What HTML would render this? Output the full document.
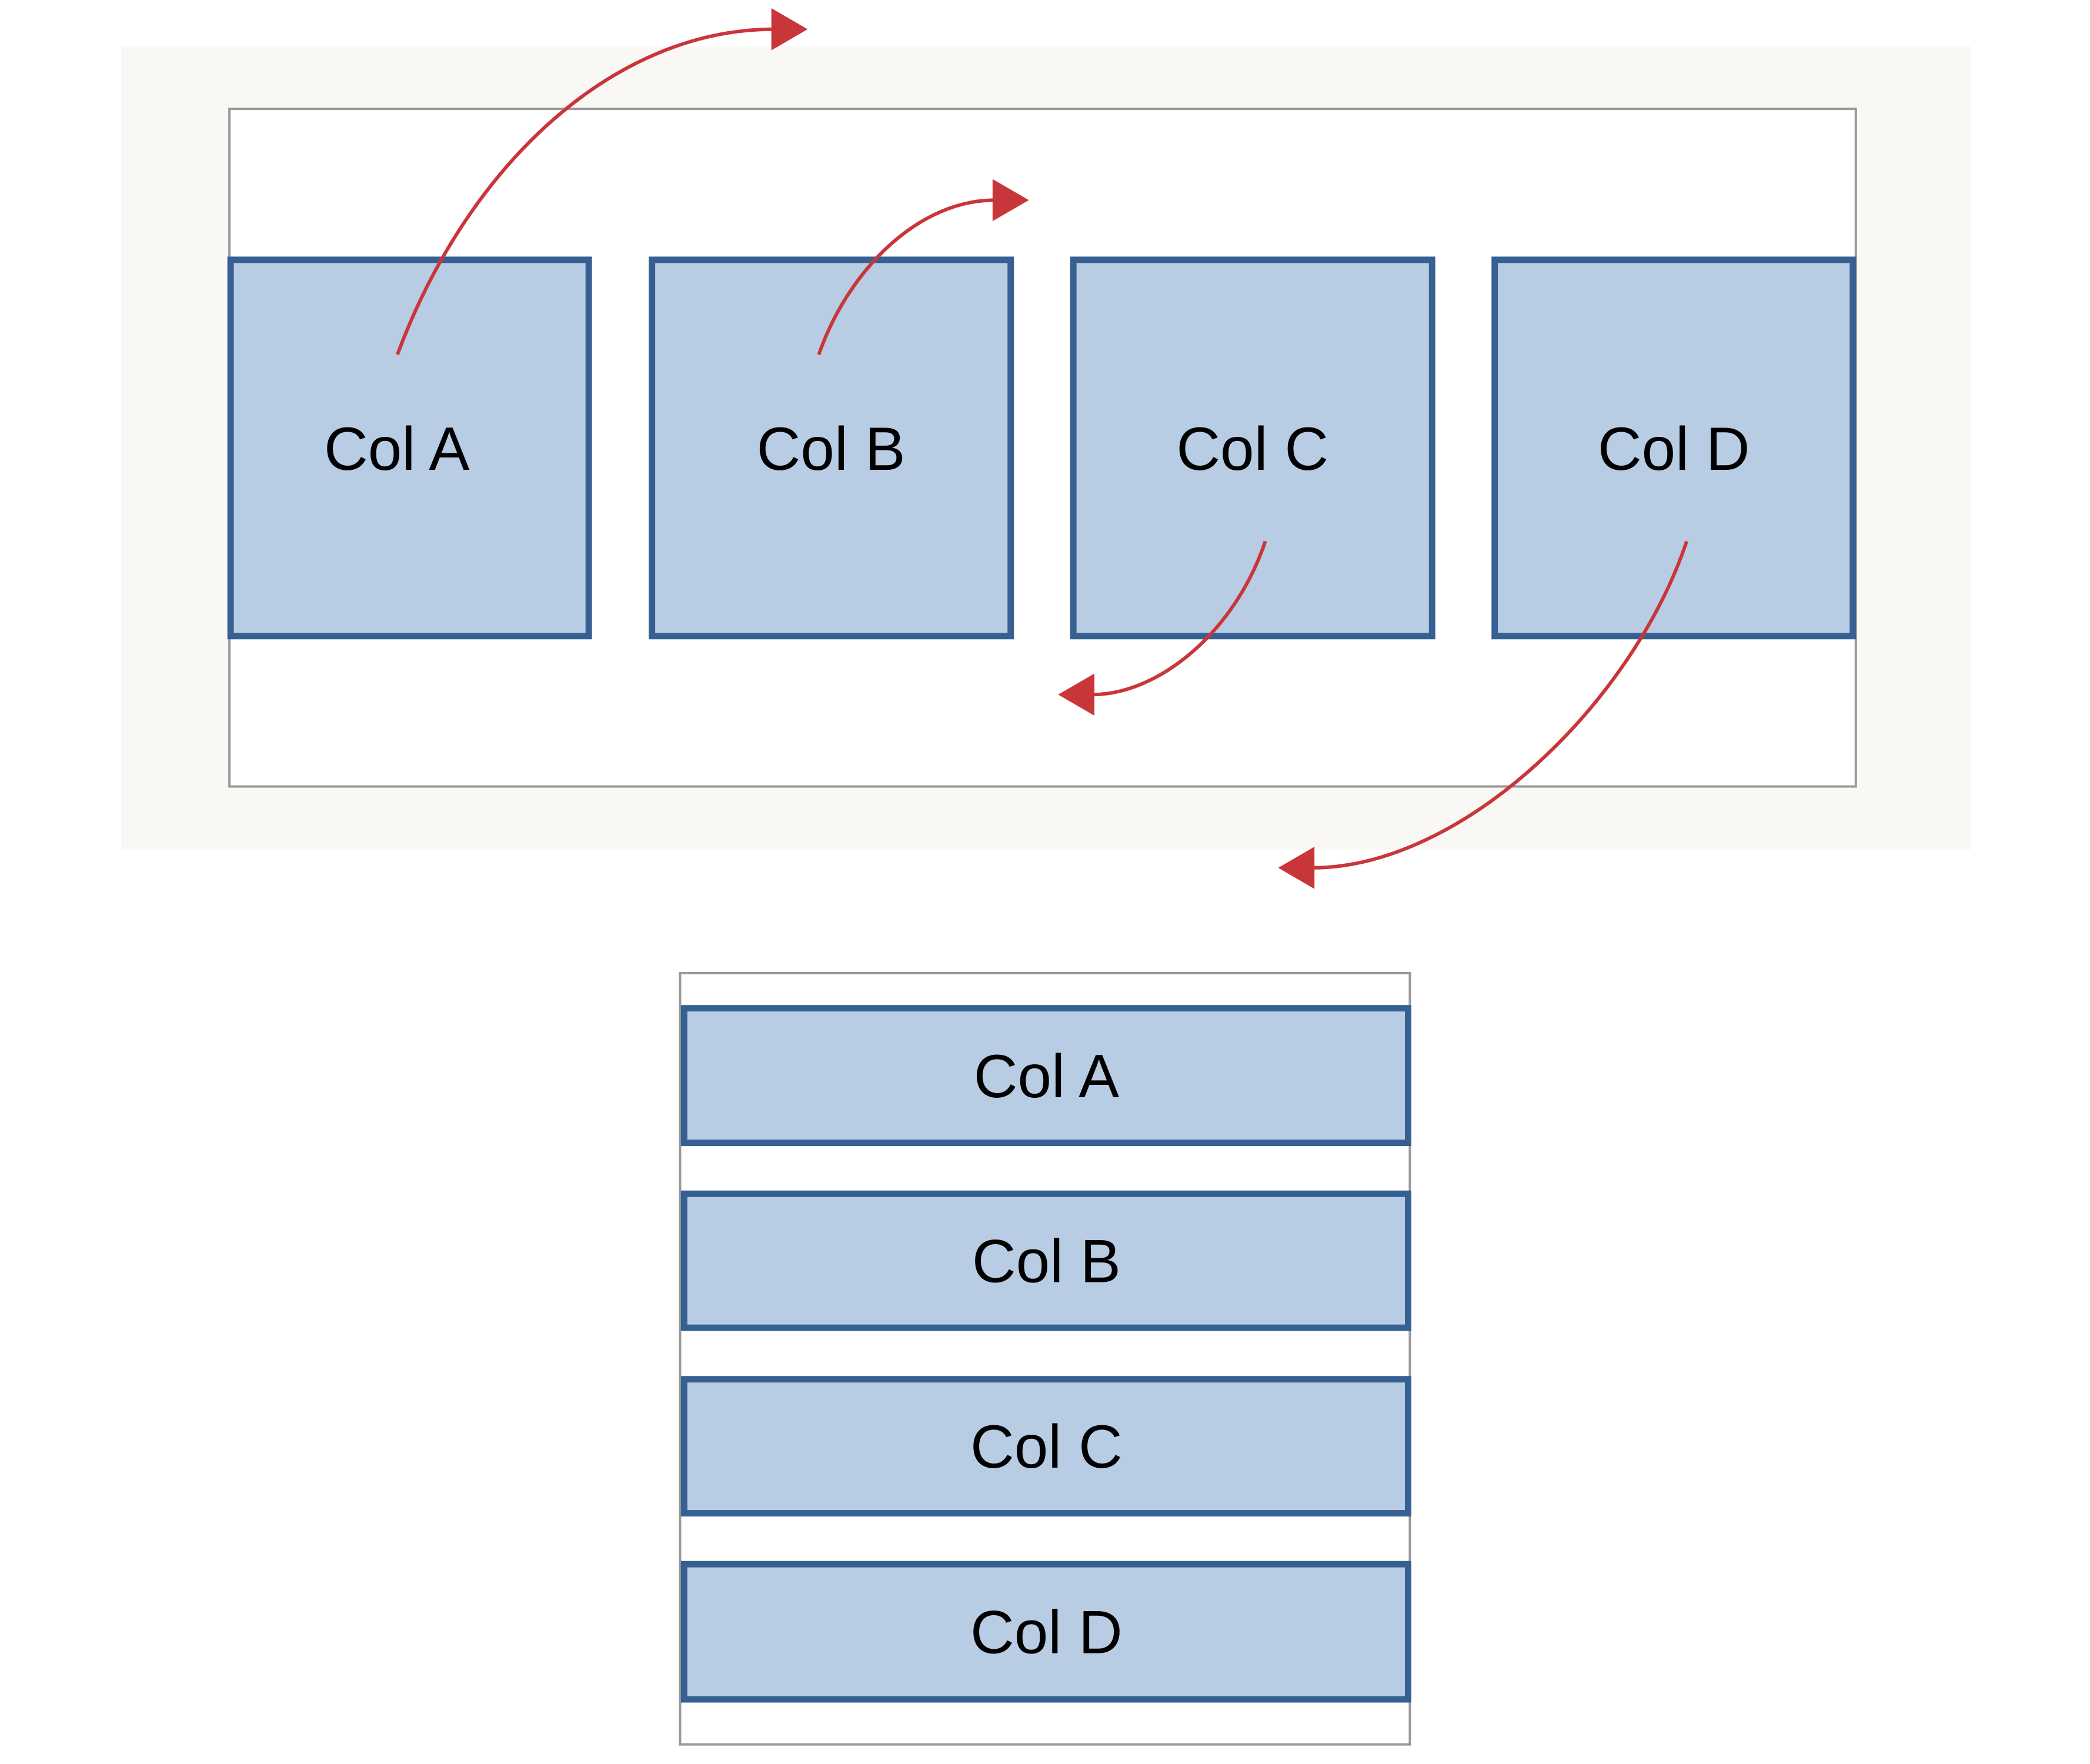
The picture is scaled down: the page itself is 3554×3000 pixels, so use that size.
<!DOCTYPE html>
<html><head><style>html,body{margin:0;padding:0;background:#fff}svg{display:block}</style></head>
<body>
<svg width="3554" height="3000" viewBox="0 0 3554 3000" xmlns="http://www.w3.org/2000/svg">
<g transform="scale(0.9952)">
<rect x="207" y="79" width="3160" height="1373" fill="#f9f8f5"/>
<rect x="392" y="186" width="2779" height="1158" fill="#fff" stroke="#999" stroke-width="4"/>
<g fill="#b8cce4" stroke="#376092" stroke-width="11">
<rect x="394" y="444" width="612" height="643"/>
<rect x="1114" y="444" width="613" height="643"/>
<rect x="1834" y="444" width="613" height="643"/>
<rect x="2554" y="444" width="612" height="643"/>
</g>
<g font-family="Liberation Sans, sans-serif" font-size="104" text-anchor="middle" fill="#000">
<text x="678" y="803">Col A</text>
<text x="1420" y="803">Col B</text>
<text x="2140" y="803">Col C</text>
<text x="2860" y="803">Col D</text>
</g>
<g fill="none" stroke="#c9363a" stroke-width="6">
<path d="M679,606 C800,280 1050,50 1322,50"/>
<path d="M1399,606 C1450,460 1570,342 1700,342"/>
<path d="M2162,925 C2110,1080 1980,1187 1866,1187"/>
<path d="M2882,925 C2790,1200 2500,1483 2242,1483"/>
</g>
<g fill="#c9363a">
<polygon points="1318,14 1380,50 1318,86"/>
<polygon points="1696,306 1758,342 1696,378"/>
<polygon points="1870,1151 1808,1187 1870,1223"/>
<polygon points="2246,1447 2184,1483 2246,1519"/>
</g>
<rect x="1162" y="1663" width="1247" height="1318" fill="#fff" stroke="#999" stroke-width="4"/>
<g fill="#b8cce4" stroke="#376092" stroke-width="11">
<rect x="1169" y="1723" width="1237" height="230"/>
<rect x="1169" y="2040" width="1237" height="229"/>
<rect x="1169" y="2357" width="1237" height="229"/>
<rect x="1169" y="2673" width="1237" height="231"/>
</g>
<g font-family="Liberation Sans, sans-serif" font-size="104" text-anchor="middle" fill="#000">
<text x="1788" y="1875">Col A</text>
<text x="1788" y="2191">Col B</text>
<text x="1788" y="2508">Col C</text>
<text x="1788" y="2825">Col D</text>
</g>
</g>
</svg>
</body></html>
